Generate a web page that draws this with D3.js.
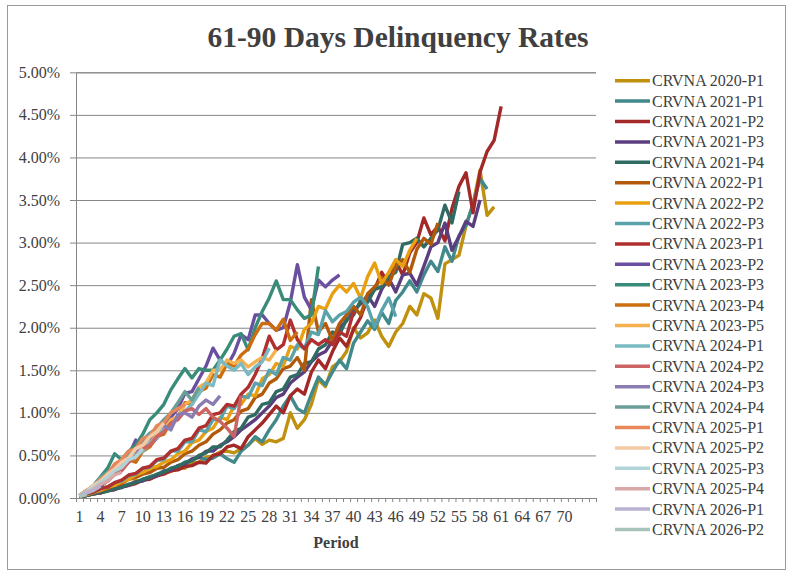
<!DOCTYPE html>
<html>
<head>
<meta charset="utf-8">
<script src="https://cdn.jsdelivr.net/npm/d3@7"></script>
<style>
  body { margin: 0; background: #fff; }
  text { font-family: "Liberation Serif", "Times New Roman", serif; fill: #404040; }
</style>
</head>
<body>
<svg id="chart" width="791" height="577"></svg>
<script>
// periods on the category axis and the labelled ones
const periods = d3.range(1, 75);
const xTickLabels = [1, 4, 7, 10, 13, 16, 19, 22, 25, 28, 31, 34, 37, 40, 43, 46, 49, 52, 55, 58, 61, 64, 67, 70];
const yTicks = [0, 0.5, 1, 1.5, 2, 2.5, 3, 3.5, 4, 4.5, 5];

const seriesNames = ["CRVNA 2020-P1", "CRVNA 2021-P1", "CRVNA 2021-P2", "CRVNA 2021-P3", "CRVNA 2021-P4",
  "CRVNA 2022-P1", "CRVNA 2022-P2", "CRVNA 2022-P3", "CRVNA 2023-P1", "CRVNA 2023-P2", "CRVNA 2023-P3",
  "CRVNA 2023-P4", "CRVNA 2023-P5", "CRVNA 2024-P1", "CRVNA 2024-P2", "CRVNA 2024-P3", "CRVNA 2024-P4",
  "CRVNA 2025-P1", "CRVNA 2025-P2", "CRVNA 2025-P3", "CRVNA 2025-P4", "CRVNA 2026-P1", "CRVNA 2026-P2"];

// delinquency rate in %, one value per period starting at period 1
const v2020P1 = [0.02,0.03,0.05,0.06,0.09,0.10,0.14,0.15,0.20,0.21, 0.25,0.26,0.30,0.31,0.36,0.35,0.41,0.42,0.48,0.49,
  0.54,0.55,0.53,0.58,0.62,0.70,0.63,0.68,0.66,0.70, 1.00,0.82,0.92,1.10,1.39,1.31,1.54,1.60,1.72,2.00,
  1.88,1.94,2.09,1.90,1.78,1.95,2.05,2.25,2.15,2.40, 2.35,2.11,2.75,2.80,2.85,3.20,3.45,3.85,3.32,3.42];
const v2021P1 = [0.02,0.03,0.05,0.07,0.08,0.11,0.12,0.16,0.18,0.22, 0.25,0.27,0.32,0.33,0.38,0.40,0.44,0.48,0.45,0.47,
  0.52,0.46,0.42,0.55,0.62,0.72,0.66,0.80,0.92,1.08, 1.20,1.05,1.00,1.22,1.42,1.33,1.48,1.62,1.52,1.82,
  1.95,2.08,1.98,2.18,2.05,2.32,2.42,2.55,2.42,2.62, 2.78,2.66,2.95,2.78,3.08,3.20,3.45,3.75,3.63];
const v2021P2 = [0.02,0.03,0.05,0.06,0.09,0.10,0.13,0.15,0.17,0.21, 0.22,0.26,0.28,0.32,0.33,0.37,0.38,0.42,0.41,0.50,
  0.52,0.60,0.62,0.58,0.72,0.80,0.88,0.98,1.08,1.00, 1.20,1.28,1.22,1.48,1.62,1.52,1.72,1.88,1.78,1.98,
  2.12,2.35,2.45,2.65,2.52,2.78,2.62,2.88,3.00,3.29, 3.09,3.19,3.02,3.40,3.66,3.82,3.35,3.83,4.07,4.20, 4.60];
const v2021P3 = [0.02,0.03,0.05,0.06,0.09,0.10,0.13,0.15,0.19,0.20, 0.24,0.26,0.31,0.33,0.38,0.40,0.46,0.48,0.55,0.55,
  0.62,0.66,0.72,0.80,0.86,0.92,1.00,1.08,1.18,1.22, 1.35,1.42,1.48,1.60,1.68,1.72,1.85,2.00,2.08,2.20,
  2.28,2.38,2.25,2.45,2.58,2.42,2.62,2.64,2.50,2.72, 2.95,3.00,3.23,2.91,3.07,3.25,3.19,3.50];
const v2021P4 = [0.02,0.03,0.05,0.07,0.08,0.11,0.13,0.16,0.18,0.22, 0.24,0.28,0.30,0.35,0.37,0.42,0.44,0.50,0.53,0.60,
  0.60,0.68,0.78,0.82,0.95,0.98,1.10,1.12,1.25,1.28, 1.42,1.45,1.58,1.60,1.75,1.80,1.95,1.92,2.10,2.15,
  2.32,2.30,2.45,2.48,2.60,2.65,2.98,3.00,3.05,2.95, 3.05,3.15,3.44,3.23,3.60];
const v2022P1 = [0.02,0.04,0.06,0.09,0.11,0.15,0.17,0.22,0.24,0.28, 0.30,0.35,0.36,0.42,0.45,0.52,0.55,0.62,0.66,0.75,
  0.80,0.88,0.92,1.02,1.05,1.18,1.22,1.35,1.40,1.52, 1.55,1.65,1.50,2.33,1.95,2.05,1.85,2.05,2.15,2.25,
  2.15,2.40,2.48,2.58,2.50,2.72,2.80,2.65,2.92,3.05, 2.98,3.23];
const v2022P2 = [0.02,0.04,0.07,0.09,0.13,0.15,0.19,0.22,0.27,0.30, 0.35,0.37,0.42,0.45,0.52,0.55,0.65,0.68,0.78,0.82,
  0.95,0.92,1.08,1.10,1.22,1.20,1.40,1.45,1.58,1.55, 1.78,1.75,1.98,2.05,2.25,2.22,2.40,2.50,2.42,2.52,
  2.35,2.60,2.76,2.52,2.65,2.80,2.72,2.91,3.05];
const v2022P3 = [0.02,0.05,0.07,0.11,0.13,0.18,0.20,0.26,0.28,0.35, 0.36,0.44,0.45,0.55,0.55,0.66,0.66,0.80,0.78,0.92,
  0.92,1.08,1.05,1.20,1.18,1.35,1.32,1.50,1.45,1.65, 1.62,1.80,1.76,1.95,1.92,2.20,2.07,2.15,2.19,2.30,
  2.36,2.25,2.01,2.20,2.35,2.13];
const v2023P1 = [0.02,0.05,0.07,0.11,0.13,0.18,0.21,0.27,0.29,0.35, 0.37,0.45,0.47,0.55,0.58,0.68,0.70,0.82,0.85,0.98,
  1.00,1.10,1.08,1.22,1.30,1.45,1.64,1.90,1.74,1.80, 2.09,1.86,1.75,1.86,1.80,1.86,1.80,1.95,1.90,2.19];
const v2023P2 = [0.02,0.05,0.09,0.14,0.20,0.28,0.40,0.50,0.68,0.55, 0.62,0.70,0.82,0.95,1.05,1.23,1.25,1.40,1.55,1.76,
  1.62,1.55,1.70,1.92,1.86,2.15,2.15,2.05,1.97,2.00, 2.30,2.74,2.36,2.21,2.56,2.48,2.56,2.62];
const v2023P3 = [0.03,0.08,0.15,0.25,0.35,0.52,0.45,0.55,0.62,0.75, 0.92,1.00,1.10,1.27,1.40,1.52,1.41,1.52,1.50,1.50,
  1.62,1.75,1.90,1.93,1.74,2.00,2.19,2.35,2.55,2.33, 2.33,2.21,2.11,2.15,2.72];
const v2023P4 = [0.02,0.06,0.09,0.16,0.20,0.28,0.33,0.45,0.42,0.55, 0.60,0.72,0.75,0.90,0.95,1.12,1.10,1.25,1.29,1.45,
  1.42,1.58,1.55,1.68,1.75,1.92,2.05,2.05,1.97,2.10, 1.85,1.95];
const v2023P5 = [0.03,0.08,0.12,0.20,0.25,0.35,0.45,0.42,0.52,0.62, 0.65,0.75,0.80,0.92,0.95,1.10,1.15,1.30,1.35,1.50,
  1.50,1.62,1.58,1.62,1.54,1.60,1.65,1.62,1.74];
const v2024P1 = [0.03,0.07,0.13,0.18,0.26,0.30,0.38,0.42,0.50,0.55, 0.65,0.70,0.82,0.85,0.95,1.02,1.10,1.22,1.35,1.32,
  1.62,1.55,1.50,1.58,1.45,1.54,1.60,1.76];
const v2024P2 = [0.03,0.07,0.10,0.16,0.20,0.28,0.32,0.42,0.48,0.58, 0.62,0.72,0.78,0.88,0.92,1.02,1.05,0.98,1.05,0.95,
  0.90,0.82,0.72,1.20];
const v2024P3 = [0.03,0.08,0.12,0.20,0.25,0.35,0.40,0.50,0.55,0.65, 0.70,0.80,0.85,0.80,0.98,1.00,0.95,1.08,1.15,1.10,
  1.20];
const v2024P4 = [0.03,0.09,0.14,0.24,0.30,0.38,0.42,0.52,0.58,0.68, 0.76,0.82,0.92,1.00,1.12,1.25,1.15,1.30];
const v2025P1 = [0.03,0.09,0.14,0.22,0.28,0.40,0.45,0.55,0.58,0.70, 0.72,0.85,0.88,1.00,1.05,1.10];
const v2025P2 = [0.03,0.08,0.15,0.20,0.28,0.34,0.42,0.47,0.58,0.62, 0.72,0.78,0.88];
const v2025P3 = [0.03,0.08,0.12,0.19,0.24,0.32,0.36,0.45,0.48,0.58];
const v2025P4 = [0.02,0.07,0.10,0.16,0.20,0.27,0.30];
const v2026P1 = [0.02,0.06,0.09,0.14];
const v2026P2 = [0.02,0.04];

const allValues = [v2020P1, v2021P1, v2021P2, v2021P3, v2021P4, v2022P1, v2022P2, v2022P3,
  v2023P1, v2023P2, v2023P3, v2023P4, v2023P5, v2024P1, v2024P2, v2024P3, v2024P4,
  v2025P1, v2025P2, v2025P3, v2025P4, v2026P1, v2026P2];

const colors = ["#c0900f", "#41898a", "#a32828", "#5a3e7e", "#2f6b62", "#b35a0a", "#e8a010", "#5aa3ad",
  "#b03030", "#6a4fa0", "#3a8c7a", "#cc6e10", "#f5b050", "#7abac3", "#cc6464", "#8a7cb0", "#6a9e96",
  "#e8875a", "#f5cba7", "#b0d4d8", "#d9a8a8", "#b8b2d0", "#a8c4bc"];

const svg = d3.select("#chart");
const plot = {left: 76, right: 596, top: 72.3, bottom: 498};

// chart border
svg.append("rect")
  .attr("x", 7.5).attr("y", 5.5)
  .attr("width", 778).attr("height", 564)
  .attr("fill", "none").attr("stroke", "#9a9a9a");

svg.append("text")
  .attr("x", 398).attr("y", 47)
  .attr("text-anchor", "middle")
  .attr("font-size", 29.5).attr("font-weight", "bold")
  .text("61-90 Days Delinquency Rates");

const x = d3.scaleBand().domain(periods).range([plot.left, plot.right]);
const xEdge = d3.scaleLinear().domain([0.5, 74.5]).range([plot.left, plot.right]);
const y = d3.scaleLinear().domain([0, 5]).range([plot.bottom, plot.top]);

// horizontal gridlines + y labels
const gy = svg.append("g")
  .attr("transform", `translate(${plot.left},0)`)
  .call(d3.axisLeft(y).tickValues(yTicks)
    .tickSize(-(plot.right - plot.left))
    .tickPadding(16)
    .tickFormat(d => d.toFixed(2) + "%"));
gy.selectAll(".tick line").attr("x1", -6).attr("stroke", "#868686");
gy.select(".domain").attr("stroke", "#868686");
gy.selectAll("text").attr("font-size", 16).attr("font-family", "Liberation Serif").attr("fill", "#404040");

// category tick marks at period boundaries
const gx = svg.append("g")
  .attr("transform", `translate(0,${plot.bottom})`)
  .call(d3.axisBottom(xEdge).tickValues(d3.range(0.5, 75, 1)).tickSize(4).tickFormat(""));
gx.selectAll("line").attr("stroke", "#868686");
gx.select(".domain").attr("stroke", "#868686");

const gxl = svg.append("g")
  .attr("transform", `translate(0,${plot.bottom})`)
  .call(d3.axisBottom(x).tickValues(xTickLabels).tickSize(0).tickPadding(13));
gxl.select(".domain").remove();
gxl.selectAll("text").attr("font-size", 16).attr("font-family", "Liberation Serif").attr("fill", "#404040");

svg.append("text")
  .attr("x", (plot.left + plot.right) / 2).attr("y", 548)
  .attr("text-anchor", "middle")
  .attr("font-size", 16).attr("font-weight", "bold")
  .text("Period");

const line = d3.line()
  .x((d, i) => x(i + 1) + x.bandwidth() / 2)
  .y(d => y(d));

svg.append("g").selectAll("path")
  .data(allValues)
  .join("path")
  .attr("d", line)
  .attr("fill", "none")
  .attr("stroke", (d, i) => colors[i])
  .attr("stroke-width", 3.4)
  .attr("stroke-linejoin", "round");

// legend
const legend = svg.append("g").selectAll("g")
  .data(seriesNames)
  .join("g")
  .attr("transform", (d, i) => `translate(615,${80.7 + i * 20.4})`);

legend.append("line")
  .attr("x1", 0).attr("x2", 35)
  .attr("stroke", (d, i) => colors[i])
  .attr("stroke-width", 3.5);

legend.append("text")
  .attr("x", 37).attr("y", 5.5)
  .attr("font-size", 16)
  .text(d => d);
</script>
</body>
</html>
